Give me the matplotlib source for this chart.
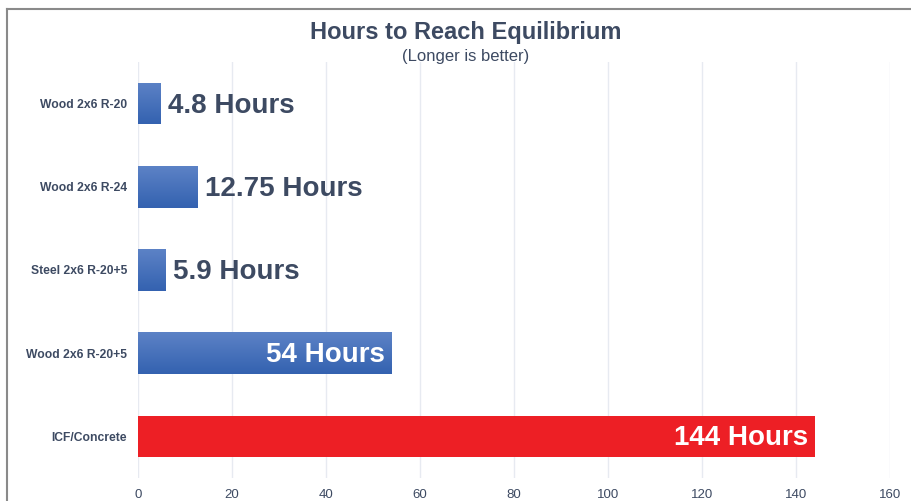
import matplotlib.pyplot as plt
import numpy as np
from matplotlib.lines import Line2D
from matplotlib.colors import LinearSegmentedColormap

plt.rcParams['font.family'] = ['Liberation Sans', 'DejaVu Sans']

# data
categories = ['Wood 2x6 R-20', 'Wood 2x6 R-24', 'Steel 2x6 R-20+5', 'Wood 2x6 R-20+5', 'ICF/Concrete']
hours = [4.8, 12.75, 5.9, 54, 144]
value_labels = ['4.8 Hours', '12.75 Hours', '5.9 Hours', '54 Hours', '144 Hours']
inside = [False, False, False, True, True]
is_icf = [False, False, False, False, True]

TXT = '#3d4a62'
BLUE = '#4770b9'
RED = '#ed1f25'
GRID = '#e7eaf1'

fig = plt.figure(figsize=(9.12, 5.01), dpi=100)
ax = fig.add_axes([138 / 912, 1 - 478 / 501, 752 / 912, 416 / 501])

y = np.arange(len(categories))
colors = [RED if c else BLUE for c in is_icf]
bars = ax.barh(y, hours, height=0.5, color=colors, zorder=2)

# soft vertical gradient on the blue bars
grad = np.linspace(0, 1, 64).reshape(-1, 1)
bcmap = LinearSegmentedColormap.from_list('b', ['#5c82c6', '#3462b0'])
for b, c in zip(bars, is_icf):
    if c:
        continue
    x0, y0 = b.get_x(), b.get_y()
    w, h = b.get_width(), b.get_height()
    im = ax.imshow(grad, cmap=bcmap, aspect='auto', extent=(x0, x0 + w, y0 + h, y0),
                   zorder=3, interpolation='bilinear')
    im.set_clip_path(b)

for b, lab, ins in zip(bars, value_labels, inside):
    yc = b.get_y() + b.get_height() / 2
    if ins:
        ax.annotate(lab, (b.get_width(), yc), xytext=(-5, -1.5), textcoords='offset points',
                    ha='right', va='center', color='white', fontsize=20, fontweight='bold', zorder=4)
    else:
        ax.annotate(lab, (b.get_width(), yc), xytext=(5, -1.5), textcoords='offset points',
                    ha='left', va='center', color=TXT, fontsize=20, fontweight='bold', zorder=4)

ax.set_xlim(0, 160)
ax.set_ylim(len(categories) - 0.5, -0.5)
ax.set_xticks(np.arange(0, 161, 20))
ax.set_yticks(y)
ax.set_yticklabels(categories, fontsize=8.7, fontweight='bold', color=TXT)
ax.tick_params(axis='x', length=0, pad=8, labelsize=9.5, labelcolor=TXT)
ax.tick_params(axis='y', length=0, pad=8)
ax.grid(axis='x', color=GRID, linewidth=1, zorder=0)
ax.set_axisbelow(True)
for s in ax.spines.values():
    s.set_visible(False)

fig.text(0.511, 1 - 32.5 / 501, 'Hours to Reach Equilibrium', ha='center', va='center',
         fontsize=17, fontweight='bold', color=TXT)
fig.text(0.511, 1 - 56 / 501, '(Longer is better)', ha='center', va='center',
         fontsize=12, color=TXT)

# frame lines from the page
fig.add_artist(Line2D([7 / 912, 7 / 912], [0, 1 - 9 / 501], color='#8a8a8a', lw=1.5))
fig.add_artist(Line2D([7 / 912, 1], [1 - 9 / 501, 1 - 9 / 501], color='#8a8a8a', lw=1.5))

fig.savefig('out.png', dpi=100)
